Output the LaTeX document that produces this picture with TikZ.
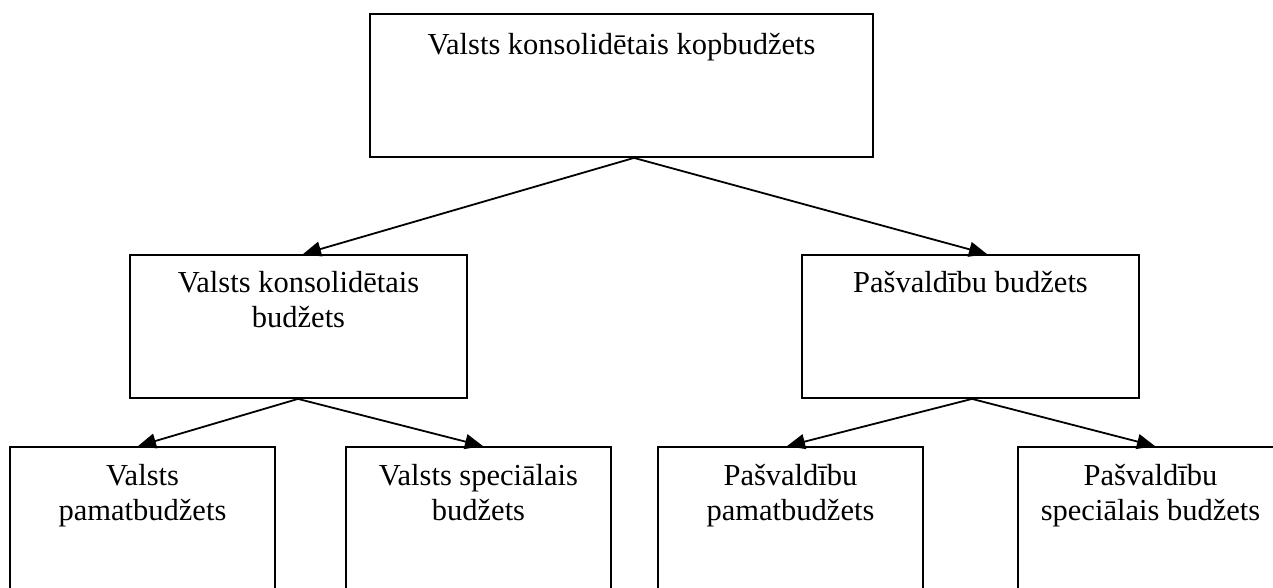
\documentclass[tikz,border=0pt]{standalone}
\usepackage{fontspec}
\setmainfont{Liberation Serif}
\usetikzlibrary{arrows.meta}
\begin{document}
\begin{tikzpicture}[x=1pt,y=-1pt,
  box/.style={draw=black, line width=1.8pt, rectangle, inner sep=0pt, minimum height=143pt},
  topbox/.style={box, minimum width=503pt},
  midbox/.style={box, minimum width=337pt},
  lowbox/.style={box, minimum width=265pt},
  txt/.style={inner sep=0pt, align=center, anchor=base, font=\fontsize{30.5}{34.5}\selectfont},
  conn/.style={line width=1.8pt, -{Triangle[length=18pt,width=15pt]}}]
\useasboundingbox (0,0) rectangle (1273,587);
\clip (0,0) rectangle (1273,587);
% boxes
\node[topbox] (top) at (621.5,85.5) {};
\node[midbox] (ml) at (298.5,326.5) {};
\node[midbox] (mr) at (970.5,326.5) {};
\node[lowbox] (b1) at (142.5,518.5) {};
\node[lowbox] (b2) at (478.5,518.5) {};
\node[lowbox] (b3) at (790.5,518.5) {};
\node[lowbox] (b4) at (1150.5,518.5) {};
% texts (anchor base = baseline of last line)
\node[txt] (ttop) at ([yshift=-41pt]top.north) {Valsts konsolidētais kopbudžets};
\node[txt] (tml) at ([yshift=-73pt]ml.north) {Valsts konsolidētais\\budžets};
\node[txt] (tmr) at ([yshift=-38pt]mr.north) {Pašvaldību budžets};
\node[txt] (tb1) at ([yshift=-74pt]b1.north) {Valsts\\pamatbudžets};
\node[txt] (tb2) at ([yshift=-74pt]b2.north) {Valsts speciālais\\budžets};
\node[txt] (tb3) at ([yshift=-74pt]b3.north) {Pašvaldību\\pamatbudžets};
\node[txt] (tb4) at ([yshift=-74pt]b4.north) {Pašvaldību\\speciālais budžets};
% connectors
\coordinate (ta) at ([xshift=12.5pt]top.south);
\draw[conn] (ta) -- ([xshift=4.5pt]ml.north);
\draw[conn] (ta) -- ([xshift=16.5pt]mr.north);
\draw[conn] ([xshift=-0.5pt]ml.south) -- ([xshift=-4.5pt]b1.north);
\draw[conn] ([xshift=-0.5pt]ml.south) -- ([xshift=4.5pt]b2.north);
\draw[conn] ([xshift=1.5pt]mr.south) -- ([xshift=-3.5pt]b3.north);
\draw[conn] ([xshift=1.5pt]mr.south) -- ([xshift=4.5pt]b4.north);
\end{tikzpicture}
\end{document}
